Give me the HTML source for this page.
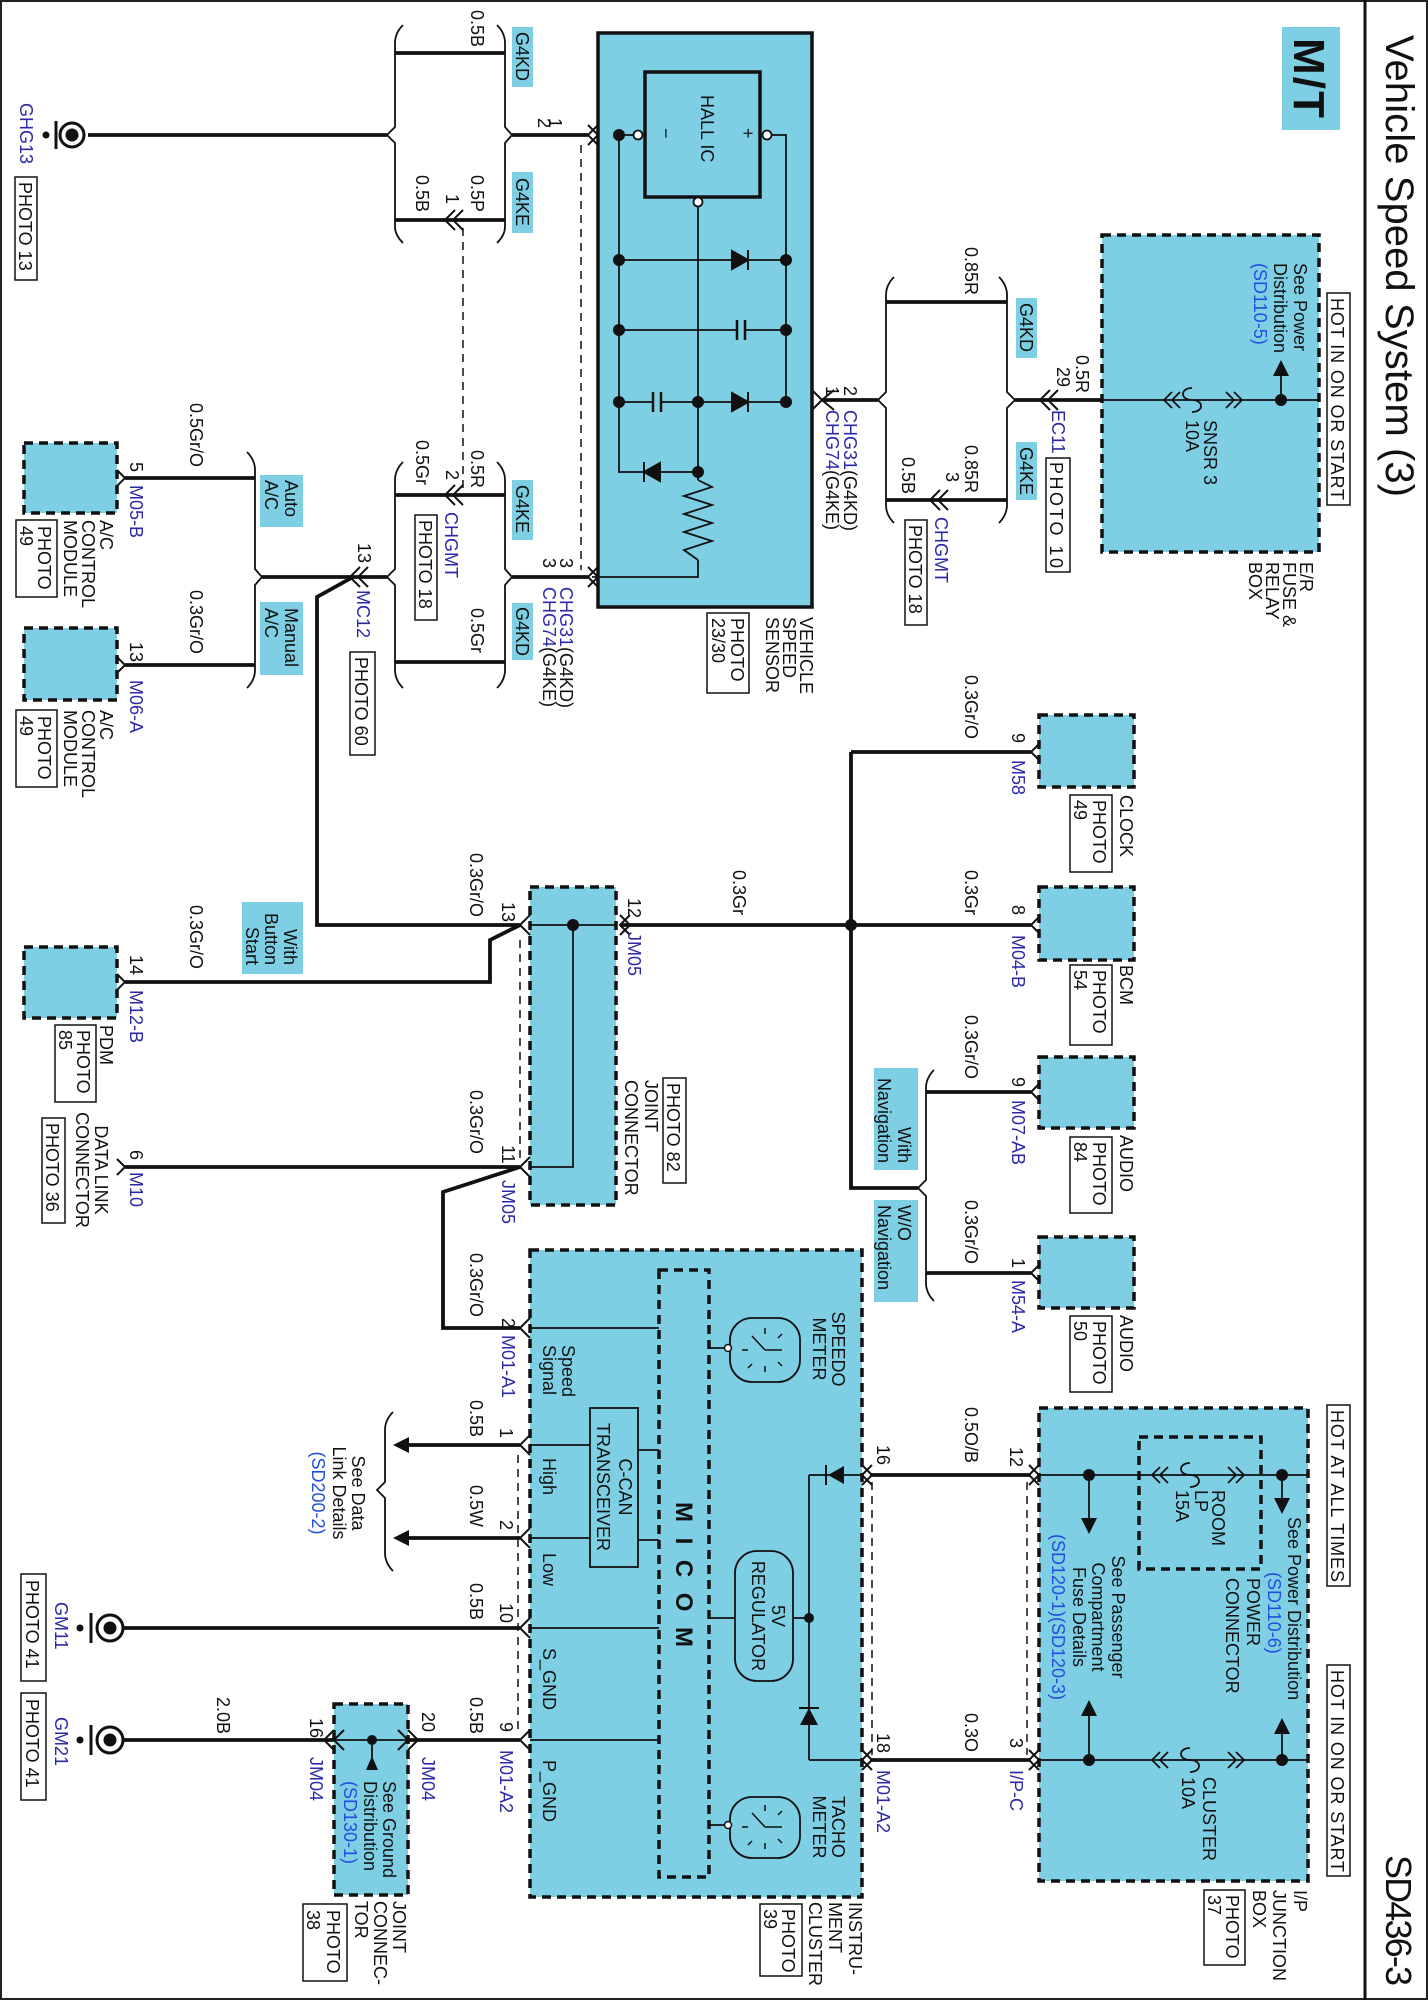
<!DOCTYPE html>
<html><head><meta charset="utf-8"><style>
html,body{margin:0;padding:0;background:#fff}
svg{display:block}
.t text{font-family:"Liberation Sans",sans-serif;font-size:18px;fill:#111}
.t .b{fill:#2a2aa8}
.t .l{fill:#1f4fe0}
</style></head><body>
<svg width="1428" height="2000" viewBox="0 0 1428 2000" xmlns="http://www.w3.org/2000/svg">
<rect x="1" y="1" width="1426" height="1998" fill="#fff" stroke="#222" stroke-width="2"/>
<line x1="1365" y1="0" x2="1365" y2="2000" stroke="#111" stroke-width="3"/>

<g fill="#7ecfe3">
<rect x="1282" y="27" width="58" height="103"/>
<rect x="1016" y="298" width="21" height="60"/><rect x="1016" y="442" width="21" height="58"/>
<rect x="512" y="27" width="21" height="60"/><rect x="512" y="172" width="21" height="61"/>
<rect x="512" y="480" width="21" height="60"/><rect x="512" y="603" width="21" height="57"/>
<rect x="260" y="475" width="43" height="52"/><rect x="260" y="602" width="43" height="73"/>
<rect x="242" y="902" width="61" height="72"/>
<rect x="874" y="1068" width="44" height="102"/><rect x="874" y="1200" width="44" height="102"/>
</g>

<g fill="#7ecfe3" stroke="#111" stroke-width="3.5" stroke-dasharray="9 6">
<rect x="1102" y="235" width="217" height="317"/>
<rect x="24" y="443" width="93" height="70"/>
<rect x="24" y="628" width="93" height="72"/>
<rect x="24" y="947" width="93" height="71"/>
<rect x="1039" y="715" width="95" height="72"/>
<rect x="1039" y="887" width="95" height="73"/>
<rect x="1039" y="1057" width="95" height="71"/>
<rect x="1039" y="1237" width="95" height="71"/>
<rect x="530" y="887" width="86" height="318"/>
<rect x="530" y="1250" width="332" height="647"/>
<rect x="1039" y="1408" width="269" height="473"/>
<rect x="334" y="1704" width="74" height="191"/>
</g>
<g fill="none" stroke="#111" stroke-width="3.5" stroke-dasharray="9 6">
<rect x="659" y="1270" width="50" height="607"/>
<rect x="1139" y="1437" width="122" height="132"/>
</g>

<rect x="598" y="33" width="214" height="574" fill="#7ecfe3" stroke="#111" stroke-width="3.5"/>
<rect x="645" y="72" width="115" height="125" fill="#7ecfe3" stroke="#111" stroke-width="3.5"/>
<g stroke="#111" stroke-width="1.8" fill="none">
<path d="M772 135H786V402M633 135H619V472H698M698 207V480M619 260H786M619 330H786M619 402H786M592 577H698V560"/>
<path d="M698 480 L712 487 L684 496 L712 505 L684 514 L712 523 L684 532 L712 541 L684 550 L698 560"/>
</g>
<g fill="#111" stroke="#111" stroke-width="2">
<circle cx="786" cy="260" r="5"/><circle cx="786" cy="330" r="5"/><circle cx="786" cy="402" r="5"/>
<circle cx="619" cy="135" r="5"/><circle cx="619" cy="260" r="5"/><circle cx="619" cy="330" r="5"/><circle cx="619" cy="402" r="5"/>
<circle cx="698" cy="402" r="5"/><circle cx="698" cy="472" r="5"/>
<path d="M732 251 L748 260 L732 269Z M748 250V270"/>
<path d="M732 393 L748 402 L732 411Z M748 392V412"/>
<path d="M660 463 L644 472 L660 481Z M644 462V482"/>
</g>
<g stroke="#111" stroke-width="2.5">
<rect x="736" y="320" width="10" height="20" fill="#7ecfe3" stroke="none"/>
<line x1="737" y1="320" x2="737" y2="340"/><line x1="745" y1="320" x2="745" y2="340"/>
<rect x="652" y="392" width="10" height="20" fill="#7ecfe3" stroke="none"/>
<line x1="653" y1="392" x2="653" y2="412"/><line x1="661" y1="392" x2="661" y2="412"/>
</g>
<g fill="#fff" stroke="#111" stroke-width="1.8">
<circle cx="767" cy="135" r="4.5"/><circle cx="638" cy="135" r="4.5"/><circle cx="698" cy="202" r="4.5"/>
</g>

<g stroke="#111" stroke-width="3.8" fill="none">
<path d="M822 400H878M1015 400H1102M886 302H1007M886 500H1007"/>
<path d="M395 53H505M395 220H505M88 135H387M512 135H588"/>
<path d="M395 495H505M395 662H505M512 577H588M262 577H387M255 478H125M255 665H125"/>
<path d="M353 577 L317 597 V925 H520 L490 940 V982 H125"/>
<path d="M620 925H851M851 752V1188H918M851 752H1031M851 925H1031M926 1092H1031M926 1273H1031"/>
<path d="M520 1167H125M520 1167 L443 1192 V1328 H520"/>
<path d="M520 1445H408M520 1538H408M520 1628H124M520 1740H408M334 1740H124"/>
<path d="M870 1475H1031M870 1760H1031"/>
</g>
<g stroke="#111" stroke-width="1.8" fill="none">
<path d="M1102 400H1319M1281 400V372"/>
<path d="M530 925H616M573 925V1167H530"/>
<path d="M530 1328H659M530 1445H590M530 1538H590M638 1450H659M638 1540H659M530 1628H659M530 1740H659"/>
<path d="M408 1740H334M372 1740V1758"/>
<path d="M709 1348H726M709 1825H726M709 1618H735M793 1618H809M809 1475V1760M809 1475H862M809 1760H862"/>
<path d="M1039 1475H1308M1039 1760H1308M1089 1475V1520M1282 1475V1502M1089 1760V1712M1282 1760V1730"/>
</g>
<g fill="#111">
<circle cx="851" cy="925" r="6"/><circle cx="573" cy="925" r="6"/><circle cx="1281" cy="400" r="6"/>
<circle cx="809" cy="1618" r="5"/><circle cx="372" cy="1740" r="5"/>
<circle cx="1089" cy="1475" r="6"/><circle cx="1282" cy="1475" r="6"/><circle cx="1089" cy="1760" r="6"/><circle cx="1282" cy="1760" r="6"/>
<path d="M1281 360 L1273 376 L1289 376Z"/>
<path d="M1089 1534 L1081 1518 L1097 1518Z M1282 1514 L1274 1498 L1290 1498Z M1089 1700 L1081 1716 L1097 1716Z M1282 1718 L1274 1734 L1290 1734Z"/>
<path d="M366 1770 L372 1756 L378 1770Z"/>
<path d="M393 1445 L409 1437 L409 1453Z M393 1538 L409 1530 L409 1546Z"/>
<path d="M828 1475 L844 1466 L844 1484Z"/>
<path d="M809 1708 L800 1725 L818 1725Z"/>
</g>
<g stroke="#111" stroke-width="2"><line x1="826" y1="1465" x2="826" y2="1485"/><line x1="799" y1="1708" x2="819" y2="1708"/></g>

<g stroke="#111" stroke-width="1.8" fill="none">
<path d="M1192 388 C1180 388 1180 400 1192 400 C1204 400 1204 412 1192 412"/>
<path d="M1190 1463 C1178 1463 1178 1475 1190 1475 C1202 1475 1202 1487 1190 1487"/>
<path d="M1190 1748 C1178 1748 1178 1760 1190 1760 C1202 1760 1202 1772 1190 1772"/>
<path d="M1172 392 L1164 400 L1172 408 M1180 392 L1172 400 L1180 408 M1226 392 L1234 400 L1226 408 M1234 392 L1242 400 L1234 408"/>
<path d="M1160 1467 L1152 1475 L1160 1483 M1168 1467 L1160 1475 L1168 1483 M1228 1467 L1236 1475 L1228 1483 M1236 1467 L1244 1475 L1236 1483"/>
<path d="M1160 1752 L1152 1760 L1160 1768 M1168 1752 L1160 1760 L1168 1768 M1228 1752 L1236 1760 L1228 1768 M1236 1752 L1244 1760 L1236 1768"/>
</g>
<g stroke="#111" stroke-width="2" fill="none">
<path d="M834 390 L822 400 L834 410 M812 390 L822 400 L812 410"/>
<path d="M1058 390 L1048 400 L1058 410 M1050 390 L1040 400 L1050 410"/>
<path d="M948 490 L938 500 L948 510 M940 490 L930 500 L940 510"/>
<path d="M588 125 L598 135 L588 145 M598 125 L588 135 L598 145"/>
<path d="M588 567 L598 577 L588 587 M598 567 L588 577 L598 587"/>
<path d="M455 210 L445 220 L455 230 M463 210 L453 220 L463 230"/>
<path d="M455 485 L445 495 L455 505 M463 485 L453 495 L463 505"/>
<path d="M360 567 L350 577 L360 587 M368 567 L358 577 L368 587"/>
<path d="M530 915 L520 925 L530 935 M620 915 L630 925 L620 935 M630 915 L620 925 L630 935"/>
<path d="M530 1157 L520 1167 L530 1177"/>
<path d="M530 1318 L520 1328 L530 1338 M530 1435 L520 1445 L530 1455 M530 1528 L520 1538 L530 1548 M530 1618 L520 1628 L530 1638 M530 1730 L520 1740 L530 1750"/>
<path d="M408 1730 L418 1740 L408 1750 M334 1730 L324 1740 L334 1750 M344 1730 L334 1740 L344 1750 M398 1730 L408 1740 L398 1750"/>
<path d="M117 470 L125 478 L117 486 M117 657 L125 665 L117 673 M117 974 L125 982 L117 990 M117 1159 L125 1167 L117 1175"/>
<path d="M1039 744 L1031 752 L1039 760 M1039 917 L1031 925 L1039 933 M1039 1084 L1031 1092 L1039 1100 M1039 1265 L1031 1273 L1039 1281"/>
<path d="M862 1465 L872 1475 L862 1485 M872 1465 L862 1475 L872 1485 M862 1750 L872 1760 L862 1770 M872 1750 L862 1760 L872 1770"/>
<path d="M1029 1465 L1039 1475 L1029 1485 M1039 1465 L1029 1475 L1039 1485 M1029 1750 L1039 1760 L1029 1770 M1039 1750 L1029 1760 L1039 1770"/>
</g>
<g stroke="#111" stroke-width="1.8" fill="none">
<path d="M894 277 Q886 285 886 295 V392 L878 400 L886 408 V505 Q886 515 894 523"/>
<path d="M999 277 Q1007 285 1007 295 V392 L1015 400 L1007 408 V505 Q1007 515 999 523"/>
<path d="M497 25 Q505 33 505 43 V127 L512 135 L505 143 V227 Q505 235 497 243"/>
<path d="M403 25 Q395 33 395 43 V127 L387 135 L395 143 V227 Q395 235 403 243"/>
<path d="M497 462 Q505 470 505 480 V569 L512 577 L505 585 V670 Q505 680 497 688"/>
<path d="M403 462 Q395 470 395 480 V569 L387 577 L395 585 V670 Q395 680 403 688"/>
<path d="M247 452 Q255 460 255 470 V569 L262 577 L255 585 V670 Q255 680 247 688"/>
<path d="M934 1070 Q926 1078 926 1088 V1180 L918 1188 L926 1196 V1283 Q926 1293 934 1301"/>
<path d="M393 1412 Q385 1420 385 1430 V1482 L377 1490 L385 1498 V1553 Q385 1563 393 1571"/>
</g>
<g stroke="#111" stroke-width="1.5" stroke-dasharray="8 6">
<line x1="581" y1="145" x2="581" y2="570"/><line x1="463" y1="228" x2="463" y2="488"/>
<line x1="520" y1="940" x2="520" y2="1160"/><line x1="518" y1="1455" x2="518" y2="1732"/>
<line x1="872" y1="1482" x2="872" y2="1755"/><line x1="1027" y1="1482" x2="1027" y2="1755"/>
</g>
<g stroke="#111" stroke-width="3" fill="#fff">
<circle cx="72" cy="135" r="12"/><circle cx="110" cy="1628" r="13"/><circle cx="110" cy="1740" r="13"/>
</g>
<g fill="#111" stroke="#111" stroke-width="3">
<circle cx="72" cy="135" r="5"/><circle cx="110" cy="1628" r="5"/><circle cx="110" cy="1740" r="5"/>
<line x1="56" y1="121" x2="56" y2="149"/><line x1="91" y1="1613" x2="91" y2="1643"/><line x1="91" y1="1725" x2="91" y2="1755"/>
<circle cx="46" cy="135" r="2"/><circle cx="80" cy="1628" r="2"/><circle cx="80" cy="1740" r="2"/>
</g>
<g stroke="#111" stroke-width="1.8" fill="#7ecfe3">
<rect x="730" y="1318" width="70" height="64" rx="22"/>
<rect x="730" y="1797" width="70" height="61" rx="22"/>
<rect x="735" y="1551" width="58" height="130" rx="22"/>
<rect x="590" y="1408" width="48" height="159"/>
</g>
<g fill="#fff" stroke="#111" stroke-width="1.5"><circle cx="728" cy="1348" r="3.5"/><circle cx="728" cy="1825" r="3.5"/></g>
<g stroke="#111" stroke-width="1.5">
<path d="M765 1350 L752 1336 M765 1350 L782 1350 M765 1328V1334 M765 1366V1372 M748 1350H742 M778 1338 L782 1334 M752 1364 L748 1368 M778 1362 L782 1366"/>
<path d="M765 1827 L752 1813 M765 1827 L782 1827 M765 1805V1811 M765 1843V1849 M748 1827H742 M778 1815 L782 1811 M752 1841 L748 1845 M778 1839 L782 1843"/>
</g>
<g fill="none" stroke="#111" stroke-width="1.5">
<rect x="1327" y="293" width="23" height="212"/><rect x="1046" y="458" width="24" height="114"/>
<rect x="905" y="520" width="22" height="105"/><rect x="707" y="613" width="42" height="80"/>
<rect x="15" y="177" width="22" height="103"/><rect x="415" y="515" width="22" height="105"/>
<rect x="350" y="652" width="25" height="103"/><rect x="16" y="520" width="41" height="77"/>
<rect x="16" y="710" width="41" height="77"/><rect x="55" y="1025" width="41" height="77"/>
<rect x="663" y="1078" width="23" height="105"/><rect x="42" y="1118" width="23" height="105"/>
<rect x="21" y="1574" width="25" height="107"/><rect x="21" y="1693" width="25" height="107"/>
<rect x="303" y="1904" width="44" height="77"/><rect x="760" y="1904" width="42" height="72"/>
<rect x="1204" y="1890" width="41" height="75"/><rect x="1327" y="1405" width="23" height="181"/>
<rect x="1327" y="1665" width="23" height="211"/>
<rect x="1070" y="795" width="42" height="77"/><rect x="1070" y="965" width="42" height="80"/>
<rect x="1070" y="1137" width="42" height="76"/><rect x="1070" y="1316" width="42" height="76"/>
</g>

<g class="t" transform="rotate(90)">
<text x="35" y="-1386" style="font-size:40px" textLength="462">Vehicle Speed System (3)</text>
<text x="1855" y="-1386" style="font-size:36px" textLength="131">SD436-3</text>
<text x="38" y="-1294" style="font-size:44px;font-weight:bold" textLength="80">M/T</text>

<text x="298" y="-1331" textLength="202">HOT IN ON OR START</text>
<text x="263" y="-1294">See Power</text><text x="263" y="-1274">Distribution</text><text x="263" y="-1254" class="l">(SD110-5)</text>
<text x="420" y="-1204">SNSR 3</text><text x="420" y="-1186">10A</text>
<text x="562" y="-1300">E/R</text><text x="562" y="-1283">FUSE &amp;</text><text x="562" y="-1266">RELAY</text><text x="562" y="-1249">BOX</text>
<text x="355" y="-1076">0.5R</text><text x="367" y="-1057">29</text>
<text x="410" y="-1052" class="b">EC11</text><text x="462" y="-1050" textLength="106">PHOTO 10</text>
<text x="303" y="-1020">G4KD</text><text x="447" y="-1020">G4KE</text>
<text x="247" y="-965">0.85R</text><text x="445" y="-965">0.85R</text><text x="457" y="-902">0.5B</text><text x="472" y="-946">3</text>
<text x="517" y="-935" class="b">CHGMT</text><text x="525" y="-909">PHOTO 18</text>
<text x="386" y="-844">2</text><text x="386" y="-826">1</text>
<text x="410" y="-844"><tspan class="b">CHG31</tspan>(G4KD)</text><text x="410" y="-826"><tspan class="b">CHG74</tspan>(G4KE)</text>
<text x="617" y="-800">VEHICLE</text><text x="617" y="-783">SPEED</text><text x="617" y="-766">SENSOR</text>
<text x="618" y="-731">PHOTO</text><text x="618" y="-712">23/30</text>
<text x="95" y="-701">HALL IC</text><text x="128" y="-742">+</text><text x="128" y="-660">−</text>

<text x="118" y="-549">1</text><text x="118" y="-538">2</text>
<text x="32" y="-516">G4KD</text><text x="178" y="-516">G4KE</text><text x="485" y="-516">G4KE</text><text x="607" y="-516">G4KD</text>
<text x="10" y="-471">0.5B</text><text x="175" y="-471">0.5P</text><text x="175" y="-416">0.5B</text><text x="194" y="-446">1</text>
<text x="103" y="-20" class="b">GHG13</text><text x="182" y="-19">PHOTO 13</text>
<text x="450" y="-471">0.5R</text><text x="440" y="-416">0.5Gr</text><text x="470" y="-446">2</text><text x="608" y="-471">0.5Gr</text>
<text x="512" y="-445" class="b">CHGMT</text><text x="520" y="-419">PHOTO 18</text>
<text x="558" y="-560">3</text><text x="558" y="-543">3</text>
<text x="587" y="-560"><tspan class="b">CHG31</tspan>(G4KD)</text><text x="587" y="-543"><tspan class="b">CHG74</tspan>(G4KE)</text>
<text x="543" y="-358">13</text><text x="590" y="-357" class="b">MC12</text><text x="657" y="-355">PHOTO 60</text>
<text x="480" y="-285">Auto</text><text x="480" y="-265">A/C</text>
<text x="608" y="-285">Manual</text><text x="608" y="-265">A/C</text>
<text x="403" y="-190">0.5Gr/O</text><text x="462" y="-130">5</text><text x="485" y="-130" class="b">M05-B</text>
<text x="520" y="-100">A/C</text><text x="520" y="-82">CONTROL</text><text x="520" y="-64">MODULE</text>
<text x="526" y="-38">PHOTO</text><text x="526" y="-20">49</text>
<text x="590" y="-190">0.3Gr/O</text><text x="642" y="-130">13</text><text x="680" y="-130" class="b">M06-A</text>
<text x="710" y="-100">A/C</text><text x="710" y="-82">CONTROL</text><text x="710" y="-64">MODULE</text>
<text x="716" y="-38">PHOTO</text><text x="716" y="-20">49</text>

<text x="853" y="-470">0.3Gr/O</text><text x="902" y="-502">13</text><text x="898" y="-628">12</text><text x="932" y="-628" class="b">JM05</text>
<text x="965" y="-284" text-anchor="end">With</text><text x="965" y="-265" text-anchor="end">Button</text><text x="965" y="-246" text-anchor="end">Start</text>
<text x="905" y="-190">0.3Gr/O</text><text x="955" y="-130">14</text><text x="990" y="-130" class="b">M12-B</text>
<text x="1025" y="-100">PDM</text><text x="1030" y="-77">PHOTO</text><text x="1030" y="-59">85</text>
<text x="1090" y="-470">0.3Gr/O</text><text x="1145" y="-502">11</text><text x="1180" y="-502" class="b">JM05</text>
<text x="1083" y="-667">PHOTO 82</text><text x="1080" y="-645">JOINT</text><text x="1080" y="-625">CONNECTOR</text>
<text x="1150" y="-130">6</text><text x="1172" y="-130" class="b">M10</text>
<text x="1170" y="-95" text-anchor="middle">DATA LINK</text><text x="1170" y="-76" text-anchor="middle">CONNECTOR</text>
<text x="1123" y="-46">PHOTO 36</text>
<text x="1253" y="-470">0.3Gr/O</text><text x="1318" y="-502">2</text><text x="1335" y="-502" class="b">M01-A1</text>
<text x="1345" y="-562">Speed</text><text x="1345" y="-543">Signal</text>
<text x="1400" y="-470">0.5B</text><text x="1428" y="-500">1</text>
<text x="1487" y="-619" text-anchor="middle">C-CAN</text><text x="1487" y="-597" text-anchor="middle">TRANSCEIVER</text>
<text x="1458" y="-543">High</text><text x="1553" y="-543">Low</text>
<text x="1485" y="-470">0.5W</text><text x="1520" y="-500">2</text>
<text x="1493" y="-352" text-anchor="middle">See Data</text><text x="1493" y="-333" text-anchor="middle">Link Details</text><text x="1493" y="-312" text-anchor="middle" class="l">(SD200-2)</text>
<text x="1583" y="-470">0.5B</text><text x="1603" y="-500">10</text><text x="1648" y="-543">S_GND</text>
<text x="1602" y="-55" class="b">GM11</text><text x="1580" y="-26">PHOTO 41</text>
<text x="1697" y="-470">0.5B</text><text x="1722" y="-500">9</text><text x="1750" y="-500" class="b">M01-A2</text><text x="1760" y="-543">P_GND</text>
<text x="1712" y="-422">20</text><text x="1757" y="-422" class="b">JM04</text><text x="1718" y="-310">16</text><text x="1757" y="-310" class="b">JM04</text>
<text x="1697" y="-217">2.0B</text>
<text x="1781" y="-383">See Ground</text><text x="1781" y="-364">Distribution</text><text x="1781" y="-344" class="l">(SD130-1)</text>
<text x="1717" y="-55" class="b">GM21</text><text x="1699" y="-26">PHOTO 41</text>
<text x="1901" y="-393">JOINT</text><text x="1901" y="-374">CONNEC-</text><text x="1901" y="-355">TOR</text>
<text x="1910" y="-327">PHOTO</text><text x="1910" y="-307">38</text>
<text x="1502" y="-676" style="font-weight:bold;font-size:24px" textLength="145" lengthAdjust="spacing">M I C O M</text>

<text x="675" y="-965">0.3Gr/O</text><text x="733" y="-1012">9</text><text x="760" y="-1012" class="b">M58</text>
<text x="795" y="-1120">CLOCK</text><text x="800" y="-1093">PHOTO</text><text x="800" y="-1074">49</text>
<text x="870" y="-733">0.3Gr</text><text x="870" y="-965">0.3Gr</text><text x="905" y="-1012">8</text><text x="935" y="-1012" class="b">M04-B</text>
<text x="965" y="-1120">BCM</text><text x="970" y="-1093">PHOTO</text><text x="970" y="-1074">54</text>
<text x="1015" y="-965">0.3Gr/O</text><text x="1077" y="-1012">9</text><text x="1100" y="-1012" class="b">M07-AB</text>
<text x="1135" y="-1120">AUDIO</text><text x="1142" y="-1093">PHOTO</text><text x="1142" y="-1074">84</text>
<text x="1163" y="-898" text-anchor="end">With</text><text x="1163" y="-878" text-anchor="end">Navigation</text>
<text x="1200" y="-965">0.3Gr/O</text><text x="1258" y="-1012">1</text><text x="1280" y="-1012" class="b">M54-A</text>
<text x="1315" y="-1120">AUDIO</text><text x="1321" y="-1093">PHOTO</text><text x="1321" y="-1074">50</text>
<text x="1205" y="-898">W/O</text><text x="1205" y="-878">Navigation</text>
<text x="1349" y="-832" text-anchor="middle">SPEEDO</text><text x="1349" y="-813" text-anchor="middle">METER</text>
<text x="1445" y="-877">16</text><text x="1407" y="-965">0.5O/B</text><text x="1447" y="-1010">12</text>
<text x="1733" y="-877">18</text><text x="1770" y="-877" class="b">M01-A2</text><text x="1713" y="-965">0.3O</text><text x="1738" y="-1010">3</text><text x="1770" y="-1010" class="b">I/P-C</text>
<text x="1827" y="-832" text-anchor="middle">TACHO</text><text x="1827" y="-813" text-anchor="middle">METER</text>
<text x="1616" y="-772" text-anchor="middle">5V</text><text x="1616" y="-752" text-anchor="middle">REGULATOR</text>
<text x="1902" y="-849">INSTRU-</text><text x="1902" y="-829">MENT</text><text x="1902" y="-809">CLUSTER</text>
<text x="1909" y="-782">PHOTO</text><text x="1909" y="-764">39</text>
<text x="1410" y="-1331" textLength="172">HOT AT ALL TIMES</text><text x="1670" y="-1331" textLength="202">HOT IN ON OR START</text>
<text x="1490" y="-1212">ROOM</text><text x="1490" y="-1195">LP</text><text x="1490" y="-1176">15A</text>
<text x="1517" y="-1288">See Power Distribution</text><text x="1572" y="-1268" class="l">(SD110-6)</text>
<text x="1578" y="-1247">POWER</text><text x="1578" y="-1226">CONNECTOR</text>
<text x="1617" y="-1112" text-anchor="middle">See Passenger</text><text x="1617" y="-1092" text-anchor="middle">Compartment</text><text x="1617" y="-1073" text-anchor="middle">Fuse Details</text><text x="1617" y="-1052" text-anchor="middle" class="l">(SD120-1)(SD120-3)</text>
<text x="1777" y="-1203">CLUSTER</text><text x="1777" y="-1182">10A</text>
<text x="1890" y="-1294">I/P</text><text x="1890" y="-1273">JUNCTION</text><text x="1890" y="-1253">BOX</text>
<text x="1895" y="-1226">PHOTO</text><text x="1895" y="-1208">37</text>
</g>
</svg>
</body></html>
